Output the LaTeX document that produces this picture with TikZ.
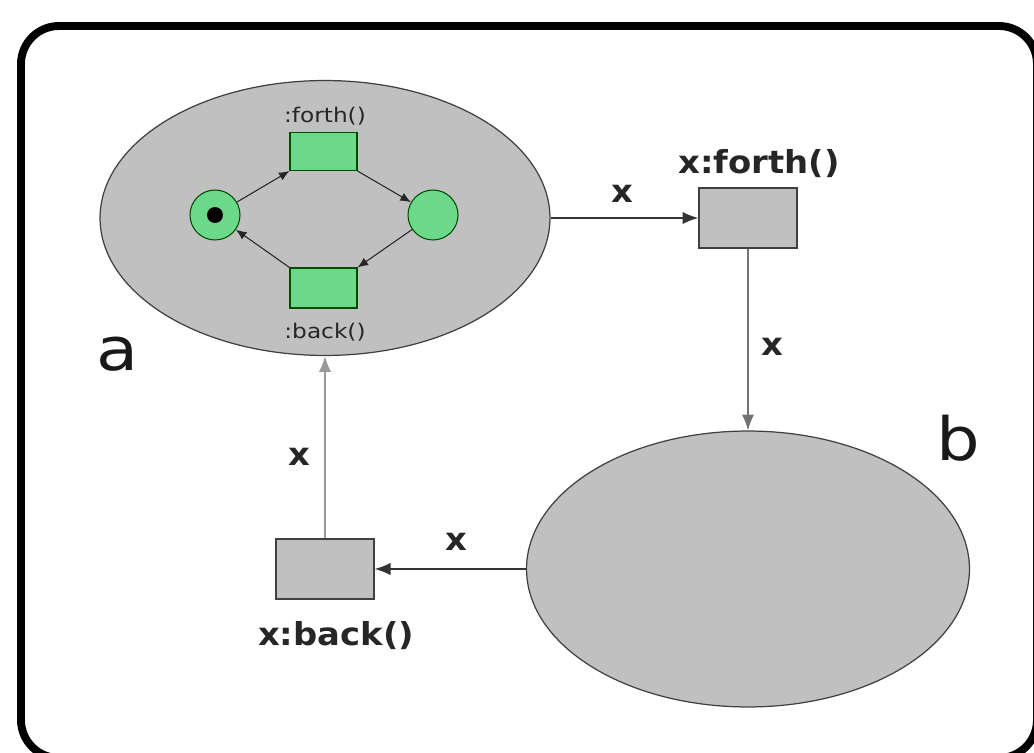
\documentclass[tikz,border=0pt]{standalone}
\usepackage{fontspec}
\usepackage{xcolor}
\usetikzlibrary{arrows.meta,shapes.geometric,positioning}
\newfontfamily\lblfont[FakeStretch=1.15]{DejaVu Sans}
\newfontfamily\xfont[FakeStretch=1.07]{DejaVu Sans}
\definecolor{placegreen}{RGB}{108,216,138}
\definecolor{ovalgray}{RGB}{192,192,192}

\begin{document}
\begin{tikzpicture}[x=0.02cm,y=-0.02cm,
  oval/.style={ellipse,draw=black!75,fill=ovalgray,line width=0.7pt,inner sep=0pt},
  trans/.style={rectangle,draw=black!75,fill=ovalgray,line width=0.8pt,minimum width=1.96cm,minimum height=1.2cm,inner sep=0pt},
  place/.style={circle,draw=green!30!black,fill=placegreen,line width=0.6pt,minimum size=1cm,inner sep=0pt},
  gtrans/.style={rectangle,draw=green!30!black,fill=placegreen,line width=0.6pt,minimum width=1.34cm,minimum height=0.76cm,inner sep=0pt},
  arc/.style={-{Latex[length=6pt,width=5pt]},line width=0.6pt,black!85},
  flow/.style={-{Latex[length=9pt,width=7pt]},line width=0.8pt,black!80},
  xlbl/.style={font=\xfont\bfseries\fontsize{18}{21}\selectfont,text=black!85,anchor=base,inner sep=0pt},
  smalllbl/.style={font=\lblfont\fontsize{11.5}{13}\selectfont,text=black!85,anchor=base,inner sep=0pt},
  biglbl/.style={font=\lblfont\fontsize{34}{40}\selectfont,text=black!90,anchor=base,inner sep=0pt}]
\useasboundingbox (0,0) rectangle (1034,753);
\clip (0,0) rectangle (1034,753);
\draw[line width=4.5pt,rounded corners=0.76cm] (21,26) rectangle (1037,758);
\node[oval,minimum width=9cm,minimum height=5.5cm] (a) at (325,218) {};
\node[oval,minimum width=8.86cm,minimum height=5.52cm] (b) at (748,569) {};
\node[trans] (fwd) at (748,218) {};
\node[trans] (bck) at (325,569) {};
\node[place] (p1) at (215,215) {};
\node[circle,fill=black,minimum size=0.32cm,inner sep=0pt] (tok) at (p1) {};
\node[place] (p2) at (433,215) {};
\node[gtrans] (t1) at (323.5,151.5) {};
\node[gtrans,minimum height=0.8cm] (t2) at (323.5,288) {};
\draw[arc] (p1) -- (t1.south west);
\draw[arc] (t1.south east) -- (p2);
\draw[arc] (p2) -- (t2.north east);
\draw[arc] (t2.north west) -- (p1);
\node[smalllbl] (lf) at (325,123) {:forth()};
\node[smalllbl] (lb) at (325,338) {:back()};
\draw[flow] (a.east) -- (fwd.west);
\draw[flow,black!55] (fwd.south) -- (b.north);
\draw[flow] (b.west) -- (bck.east);
\draw[flow,black!40,line width=1pt] (bck.north) -- (a.south);
\node[xlbl] (lfwd) at (759,174) {x:forth()};
\node[xlbl] (lbck) at (336,645) {x:back()};
\node[xlbl] (x1) at (622,203) {x};
\node[xlbl] (x2) at (772,355) {x};
\node[xlbl] (x3) at (456,550) {x};
\node[xlbl] (x4) at (299,465) {x};
\node[biglbl] (na) at (118,370) {a};
\node[biglbl] (nb) at (958,460) {b};
\end{tikzpicture}
\end{document}
